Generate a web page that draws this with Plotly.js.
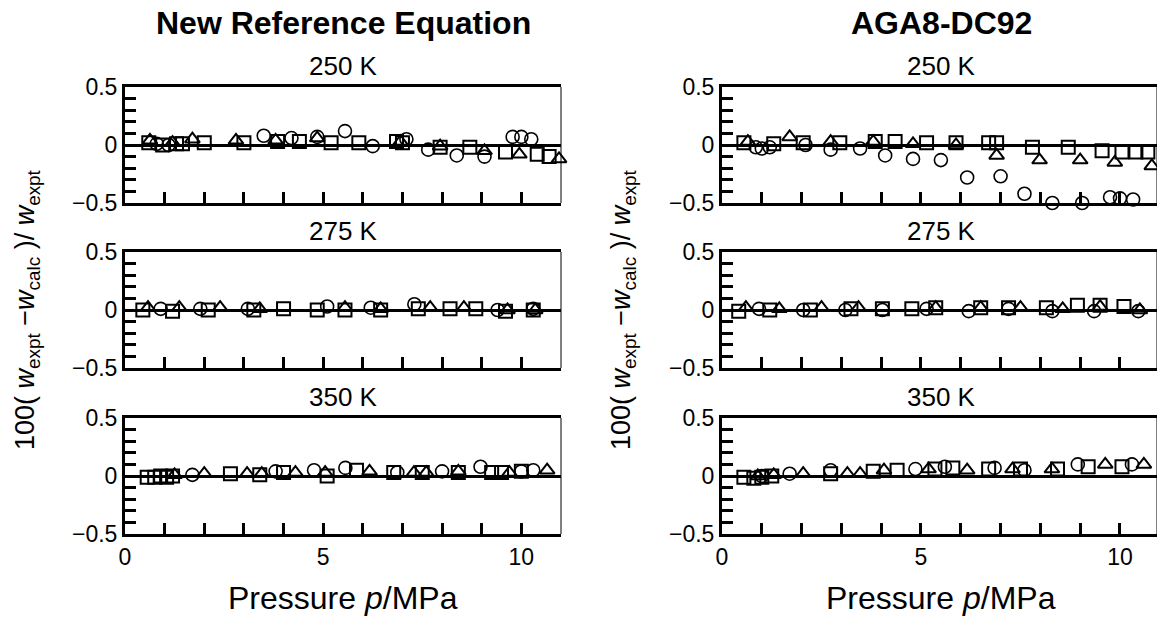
<!DOCTYPE html>
<html>
<head>
<meta charset="utf-8">
<script src="https://cdn.plot.ly/plotly-3.0.1.min.js"></script>
<style>html,body{margin:0;padding:0;background:#fff;}#chart{width:1157px;height:621px;}</style>
</head>
<body>
<div id="chart"></div>
<script>
// ---------- data: pressure p (MPa) and deviation 100(w_expt - w_calc)/w_expt (%) ----------
// New Reference Equation, 250 K
const ref250_circle_p = [0.8, 1.1, 3.5, 4.2, 4.85, 5.55, 6.25, 7.1, 7.65, 8.37, 9.07, 9.78, 10.0, 10.25];
const ref250_circle_d = [0.01, 0.0, 0.08, 0.06, 0.07, 0.12, -0.01, 0.05, -0.04, -0.09, -0.1, 0.07, 0.07, 0.05];
const ref250_square_p = [0.6, 0.95, 1.3, 1.45, 2.0, 3.0, 3.85, 4.4, 5.2, 5.9, 6.85, 7.0, 7.95, 8.7, 9.6, 10.4, 10.7];
const ref250_square_d = [0.02, 0.0, 0.01, 0.01, 0.02, 0.02, 0.03, 0.03, 0.02, 0.02, 0.03, 0.02, -0.02, -0.02, -0.06, -0.08, -0.1];
const ref250_tri_p = [0.63, 1.2, 1.7, 2.8, 3.8, 4.85, 6.95, 7.95, 9.07, 9.95, 10.95];
const ref250_tri_d = [0.04, 0.02, 0.05, 0.04, 0.04, 0.06, 0.03, -0.01, -0.05, -0.08, -0.12];
// New Reference Equation, 275 K
const ref275_circle_p = [0.9, 1.9, 3.1, 5.1, 6.2, 7.3, 9.4, 10.3];
const ref275_circle_d = [0.01, 0.01, 0.01, 0.03, 0.02, 0.05, 0.0, 0.01];
const ref275_square_p = [0.45, 1.2, 2.1, 3.25, 4.0, 4.85, 5.55, 6.45, 7.4, 8.2, 8.85, 9.6, 10.3];
const ref275_square_d = [0.0, -0.01, 0.0, 0.0, 0.01, 0.0, 0.0, 0.0, 0.01, 0.01, 0.01, -0.01, 0.0];
const ref275_tri_p = [0.58, 1.37, 2.4, 3.4, 5.55, 6.45, 7.7, 8.55, 9.65, 10.35];
const ref275_tri_d = [0.02, 0.02, 0.02, 0.01, 0.02, 0.01, 0.02, 0.02, 0.0, 0.0];
// New Reference Equation, 350 K
const ref350_circle_p = [1.7, 3.8, 4.77, 5.56, 6.87, 8.0, 8.97, 10.0, 10.3];
const ref350_circle_d = [0.01, 0.04, 0.05, 0.07, 0.03, 0.04, 0.08, 0.04, 0.05];
const ref350_square_p = [0.56, 0.75, 0.9, 1.05, 1.2, 2.66, 3.4, 4.0, 5.1, 5.84, 6.78, 7.5, 8.41, 9.25, 9.5, 10.0];
const ref350_square_d = [-0.01, -0.01, 0.0, -0.01, 0.0, 0.02, 0.01, 0.03, 0.0, 0.05, 0.03, 0.03, 0.03, 0.03, 0.03, 0.04];
const ref350_tri_p = [1.25, 2.0, 3.08, 3.45, 4.3, 5.05, 6.17, 7.29, 7.6, 8.41, 9.7, 10.65];
const ref350_tri_d = [0.01, 0.02, 0.02, 0.02, 0.03, 0.03, 0.04, 0.03, 0.03, 0.04, 0.03, 0.05];
// AGA8-DC92, 250 K
const aga250_circle_p = [0.85, 1.0, 1.2, 2.1, 2.73, 3.47, 4.1, 4.8, 5.5, 6.16, 7.0, 7.6, 8.3, 9.05, 9.75, 10.0, 10.33];
const aga250_circle_d = [-0.02, -0.03, -0.02, 0.0, -0.04, -0.03, -0.09, -0.12, -0.13, -0.28, -0.27, -0.42, -0.5, -0.5, -0.45, -0.46, -0.47];
const aga250_square_p = [0.55, 1.3, 2.04, 2.96, 3.85, 4.35, 5.14, 5.88, 6.7, 6.9, 7.8, 8.7, 9.55, 10.05, 10.4, 10.7];
const aga250_square_d = [0.02, 0.01, 0.02, 0.02, 0.03, 0.03, 0.02, 0.02, 0.02, 0.02, -0.02, -0.02, -0.05, -0.06, -0.06, -0.06];
const aga250_tri_p = [0.65, 1.7, 2.73, 3.8, 4.8, 5.88, 6.9, 7.98, 9.0, 9.87, 10.8];
const aga250_tri_d = [0.03, 0.07, 0.03, 0.03, 0.01, 0.0, -0.09, -0.13, -0.13, -0.15, -0.18];
// AGA8-DC92, 275 K
const aga275_circle_p = [0.93, 2.04, 3.1, 4.03, 5.14, 6.2, 7.2, 8.3, 9.35, 10.46];
const aga275_circle_d = [0.01, 0.0, 0.0, 0.0, 0.01, -0.01, 0.01, -0.01, -0.01, -0.01];
const aga275_square_p = [0.42, 1.2, 2.22, 3.24, 4.03, 4.77, 5.37, 6.5, 7.2, 8.15, 8.93, 9.5, 10.1];
const aga275_square_d = [-0.01, 0.0, 0.0, 0.01, 0.01, 0.01, 0.02, 0.02, 0.02, 0.02, 0.04, 0.04, 0.03];
const aga275_tri_p = [0.6, 1.44, 2.5, 3.43, 5.37, 6.5, 7.5, 8.56, 9.5, 10.5];
const aga275_tri_d = [0.02, 0.01, 0.02, 0.02, 0.02, 0.02, 0.02, 0.01, 0.03, 0.0];
// AGA8-DC92, 350 K
const aga350_circle_p = [1.0, 1.7, 2.73, 4.86, 5.6, 6.85, 7.6, 8.94, 10.3];
const aga350_circle_d = [0.0, 0.02, 0.05, 0.06, 0.08, 0.07, 0.05, 0.1, 0.1];
const aga350_square_p = [0.55, 0.8, 1.0, 1.25, 2.73, 3.8, 4.4, 5.35, 5.8, 6.7, 7.5, 8.43, 9.2, 10.05];
const aga350_square_d = [-0.01, -0.02, -0.01, 0.0, 0.02, 0.04, 0.05, 0.06, 0.07, 0.06, 0.06, 0.06, 0.08, 0.08];
const aga350_tri_p = [0.9, 1.3, 2.04, 3.15, 3.47, 4.07, 5.19, 6.16, 7.3, 8.29, 9.63, 10.6];
const aga350_tri_d = [0.0, 0.01, 0.02, 0.02, 0.02, 0.05, 0.06, 0.05, 0.06, 0.06, 0.1, 0.1];

const panelTitles = ['250 K', '275 K', '350 K'];
const columnTitles = ['New Reference Equation', 'AGA8-DC92'];
const yTickVals = [-0.5, -0.4, -0.3, -0.2, -0.1, 0, 0.1, 0.2, 0.3, 0.4, 0.5];
const yTickText = ['\u22120.5', '', '', '', '', '0', '', '', '', '', '0.5'];
const xTickVals = [0, 1, 2, 3, 4, 5, 6, 7, 8, 9, 10, 11];
const xTickText = ['0', '', '', '', '', '5', '', '', '', '', '10', ''];

// ---------- layout ----------
const W = 1157, H = 621;
const FONT = 'Liberation Sans, Arial, Helvetica, sans-serif';
const colX = [[125, 561], [722, 1157]];
const colRange = [[0, 11], [0, 10.93]];
const colCenter = [343, 941];
const rowY = [[87, 203], [252, 368], [418, 534]];

const panels = [
  [[ref250_circle_p, ref250_circle_d, ref250_square_p, ref250_square_d, ref250_tri_p, ref250_tri_d],
   [ref275_circle_p, ref275_circle_d, ref275_square_p, ref275_square_d, ref275_tri_p, ref275_tri_d],
   [ref350_circle_p, ref350_circle_d, ref350_square_p, ref350_square_d, ref350_tri_p, ref350_tri_d]],
  [[aga250_circle_p, aga250_circle_d, aga250_square_p, aga250_square_d, aga250_tri_p, aga250_tri_d],
   [aga275_circle_p, aga275_circle_d, aga275_square_p, aga275_square_d, aga275_tri_p, aga275_tri_d],
   [aga350_circle_p, aga350_circle_d, aga350_square_p, aga350_square_d, aga350_tri_p, aga350_tri_d]]
];

const traces = [];
const layout = {
  width: W, height: H,
  margin: {l: 0, r: 0, t: 0, b: 0},
  paper_bgcolor: '#fff', plot_bgcolor: '#fff',
  showlegend: false,
  font: {family: FONT, color: '#000'},
  annotations: [], shapes: []
};

let n = 0;
for (let c = 0; c < 2; c++) {
  for (let r = 0; r < 3; r++) {
    n++;
    const xa = 'xaxis' + (n === 1 ? '' : n), ya = 'yaxis' + (n === 1 ? '' : n);
    const xr = 'x' + (n === 1 ? '' : n), yr = 'y' + (n === 1 ? '' : n);
    const bottom = (r === 2);
    layout[xa] = {
      domain: [colX[c][0] / W, colX[c][1] / W],
      range: colRange[c], anchor: yr,
      showline: true, linewidth: 3, linecolor: '#000', mirror: true,
      ticks: 'inside', ticklen: 11, tickwidth: 3, tickcolor: '#000',
      tickvals: xTickVals, ticktext: xTickText,
      showticklabels: bottom,
      tickfont: {family: FONT, size: 23, color: '#000'},
      showgrid: false, zeroline: false, fixedrange: true
    };
    layout[ya] = {
      domain: [1 - rowY[r][1] / H, 1 - rowY[r][0] / H],
      range: [-0.5, 0.5], anchor: xr,
      showline: true, linewidth: 3, linecolor: '#000', mirror: false,
      ticks: 'inside', ticklen: 11, tickwidth: 3, tickcolor: '#000',
      tickvals: yTickVals, ticktext: yTickText,
      tickfont: {family: FONT, size: 23, color: '#000'},
      showgrid: false,
      zeroline: true, zerolinewidth: 3, zerolinecolor: '#000',
      fixedrange: true
    };
    // thin right frame line
    layout.shapes.push({type: 'line', xref: xr + ' domain', yref: yr + ' domain',
      x0: 1, x1: 1, y0: 0, y1: 1, line: {color: '#000', width: 1}});
    // panel title
    layout.annotations.push({text: panelTitles[r], showarrow: false,
      xref: 'paper', yref: 'paper',
      x: colCenter[c] / W, y: 1 - (rowY[r][0] - 21) / H,
      xanchor: 'center', yanchor: 'middle',
      font: {family: FONT, size: 26, color: '#000'}});
    const d = panels[c][r];
    const sym = [['circle-open', 1.6], ['square-open', 2], ['triangle-up-open', 2]];
    for (let k = 0; k < 3; k++) {
      traces.push({
        type: 'scatter', mode: 'markers', xaxis: xr, yaxis: yr,
        x: d[2 * k], y: d[2 * k + 1], cliponaxis: false,
        marker: {symbol: sym[k][0], size: 13, color: '#000',
                 line: {color: '#000', width: sym[k][1]}},
        hoverinfo: 'x+y'
      });
    }
  }
  // column title
  layout.annotations.push({text: '<b>' + columnTitles[c] + '</b>', showarrow: false,
    xref: 'paper', yref: 'paper',
    x: colCenter[c] / W, y: 1 - 23 / H,
    xanchor: 'center', yanchor: 'middle',
    font: {family: FONT, size: 32, color: '#000'}});
  // x axis title
  layout.annotations.push({text: 'Pressure <i>p</i>/MPa', showarrow: false,
    xref: 'paper', yref: 'paper',
    x: colCenter[c] / W, y: 1 - 598 / H,
    xanchor: 'center', yanchor: 'middle',
    font: {family: FONT, size: 32, color: '#000'}});
  // y axis title
  layout.annotations.push({
    text: '100( <i>w</i><sub>expt</sub> \u2212<i>w</i><sub>calc</sub> )/ <i>w</i><sub>expt</sub>',
    showarrow: false, textangle: -90,
    xref: 'paper', yref: 'paper',
    x: (c === 0 ? 27 : 623) / W, y: 1 - 310 / H,
    xanchor: 'center', yanchor: 'middle',
    font: {family: FONT, size: 27, color: '#000'}});
}

Plotly.newPlot('chart', traces, layout, {staticPlot: true, displayModeBar: false});
</script>
</body>
</html>
